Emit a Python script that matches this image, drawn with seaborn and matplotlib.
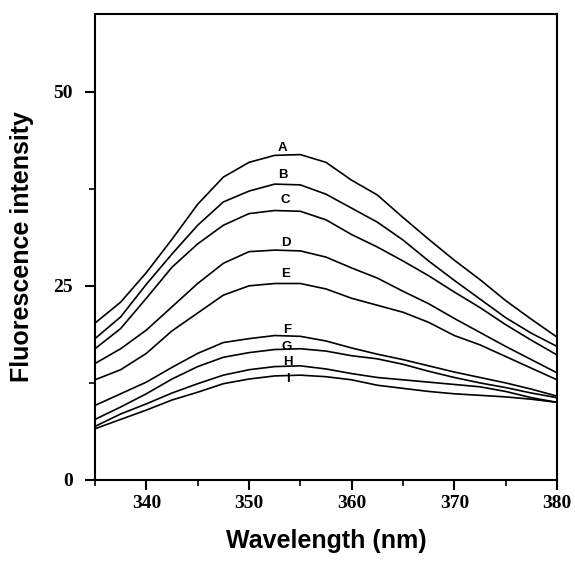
import numpy as np
import pandas as pd
import matplotlib
matplotlib.use("Agg")
import matplotlib.pyplot as plt
import seaborn as sns
from matplotlib.ticker import MultipleLocator

wavelength = [335, 337.5, 340, 342.5, 345, 347.5, 350, 352.5, 355, 357.5,
              360, 362.5, 365, 367.5, 370, 372.5, 375, 377.5, 380]

curve_a = [20.2, 22.9, 26.7, 31.0, 35.5, 39.0, 40.9, 41.8, 41.9, 40.9,
           38.6, 36.7, 33.8, 31.0, 28.3, 25.8, 23.1, 20.7, 18.4]
curve_b = [18.2, 21.0, 25.2, 29.1, 32.8, 35.8, 37.2, 38.1, 38.0, 36.8,
           35.0, 33.2, 30.9, 28.2, 25.7, 23.3, 20.9, 18.9, 17.2]
curve_c = [16.9, 19.5, 23.4, 27.4, 30.4, 32.8, 34.3, 34.7, 34.6, 33.5,
           31.6, 30.0, 28.2, 26.3, 24.2, 22.2, 20.0, 18.0, 16.1]
curve_d = [15.0, 16.9, 19.3, 22.3, 25.3, 27.9, 29.4, 29.6, 29.5, 28.7,
           27.3, 26.0, 24.3, 22.7, 20.8, 19.0, 17.2, 15.5, 13.8]
curve_e = [12.9, 14.2, 16.3, 19.2, 21.5, 23.8, 25.0, 25.3, 25.3, 24.6,
           23.4, 22.5, 21.6, 20.3, 18.6, 17.4, 15.9, 14.4, 12.9]
curve_f = [9.6, 11.1, 12.6, 14.5, 16.3, 17.7, 18.2, 18.6, 18.5, 17.9,
           17.0, 16.2, 15.5, 14.7, 13.9, 13.2, 12.5, 11.7, 10.8]
curve_g = [7.8, 9.4, 11.1, 13.0, 14.6, 15.8, 16.4, 16.8, 16.9, 16.6,
           16.0, 15.6, 14.9, 14.0, 13.2, 12.5, 11.9, 11.2, 10.6]
curve_h = [6.9, 8.5, 9.8, 11.2, 12.4, 13.5, 14.2, 14.6, 14.7, 14.3,
           13.7, 13.2, 12.9, 12.6, 12.3, 12.0, 11.4, 10.6, 10.0]
curve_i = [6.6, 7.8, 9.0, 10.3, 11.3, 12.4, 13.0, 13.4, 13.5, 13.3,
           12.9, 12.2, 11.8, 11.4, 11.1, 10.9, 10.7, 10.4, 10.0]

names = ["A", "B", "C", "D", "E", "F", "G", "H", "I"]
label_x = [353.3, 353.3, 353.5, 353.6, 353.6, 353.7, 353.7, 353.8, 353.8]
label_y = [42.7, 39.3, 36.0, 30.5, 26.5, 19.3, 17.1, 15.2, 13.0]

curves = [curve_a, curve_b, curve_c, curve_d, curve_e, curve_f, curve_g, curve_h, curve_i]
df = pd.concat([pd.DataFrame({"wl": wavelength, "val": c, "curve": n})
                for n, c in zip(names, curves)], ignore_index=True)

sns.set_style("white", {"text.color": "black", "axes.labelcolor": "black",
                        "xtick.color": "black", "ytick.color": "black",
                        "axes.edgecolor": "black"})

fig = plt.figure(figsize=(5.75, 5.7), dpi=100)
ax = fig.add_axes([0.1652, 0.1579, 0.8035, 0.8175])

sns.lineplot(data=df, x="wl", y="val", hue="curve", palette=["black"] * 9,
             legend=False, linewidth=1.2, ax=ax, sort=False)

for n, lx, ly in zip(names, label_x, label_y):
    ax.text(lx, ly, n, ha="center", va="center", fontsize=9.5,
            fontweight="bold", family="Liberation Sans", color="black")

ax.set_xlim(335, 380)
ax.set_ylim(0, 60)
ax.xaxis.set_major_locator(MultipleLocator(10))
ax.xaxis.set_minor_locator(MultipleLocator(5))
ax.yaxis.set_major_locator(MultipleLocator(25))
ax.yaxis.set_minor_locator(MultipleLocator(12.5))
ax.set_xticks([340, 350, 360, 370, 380])

for sp in ax.spines.values():
    sp.set_linewidth(1.5)
    sp.set_color("black")

ax.tick_params(axis="both", which="major", direction="out", length=7, width=1.5,
               bottom=True, left=True, top=False, right=False)
ax.tick_params(axis="both", which="minor", direction="out", length=4, width=1.2,
               bottom=True, left=True, top=False, right=False)
ax.tick_params(axis="x", which="major", pad=4)
ax.tick_params(axis="y", which="major", pad=9)

for lab in ax.get_xticklabels() + ax.get_yticklabels():
    lab.set_family("Liberation Serif")
    lab.set_fontweight("bold")
    lab.set_fontsize(14)

ax.set_xlabel("Wavelength (nm)", fontsize=18, fontweight="bold",
              family="Liberation Sans", labelpad=12)
ax.set_ylabel("Fluorescence intensity", fontsize=18, fontweight="bold",
              family="Liberation Sans", labelpad=14)

fig.savefig("out.png", dpi=100)
